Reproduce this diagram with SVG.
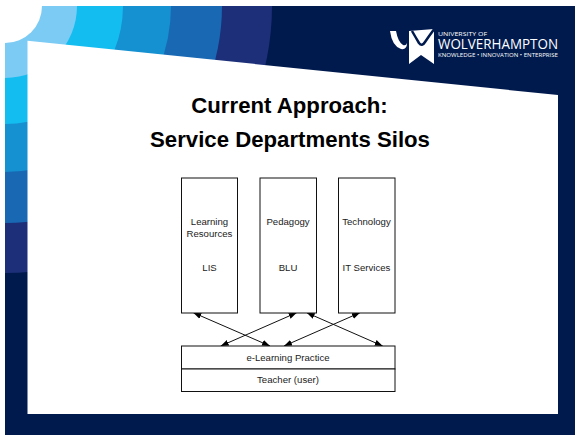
<svg xmlns="http://www.w3.org/2000/svg" width="575" height="435" viewBox="0 0 575 435">
<style>
.b{fill:#fff;stroke:#111;stroke-width:1}
.t{font:9.6px "Liberation Sans",Arial,sans-serif;text-anchor:middle;fill:#222}
.h{font:bold 22.2px "Liberation Sans",Arial,sans-serif;text-anchor:middle;fill:#000}
.c{stroke:#111;stroke-width:1;fill:none;marker-start:url(#a);marker-end:url(#a)}
.l{font-family:"Open Sans","Liberation Sans",Arial,sans-serif;fill:#fff}
</style>
<defs>
<clipPath id="s"><rect x="5" y="6" width="570" height="429"/></clipPath>
<marker id="a" markerUnits="userSpaceOnUse" markerWidth="9" markerHeight="7" refX="8" refY="3.500" orient="auto-start-reverse"><path d="M0 .5L8 3.500L0 6.500Z" fill="#000"/></marker>
</defs>
<rect width="575" height="435" fill="#fff"/>
<rect x="5" y="6" width="570" height="429" fill="#001a4e"/>
<g clip-path="url(#s)">
<circle cx="5" cy="6" r="267" fill="#1c2f78"/>
<circle cx="5" cy="6" r="217" fill="#1868b4"/>
<circle cx="5" cy="6" r="166" fill="#1590d0"/>
<circle cx="5" cy="6" r="118" fill="#14bdf0"/>
<circle cx="5" cy="6" r="72" fill="#7ccbf5"/>
<circle cx="5" cy="6" r="37" fill="#fff"/>
</g>
<path d="M27.500 40.700L558 95V414H27.500Z" fill="#fff"/>
<g id="logo">
<path d="M409 31L434 29V64L421 55L409 64Z" fill="#fff"/>
<path d="M412 31Q416 38 419 43Q422 47 425 42Q429 36 435 28" fill="none" stroke="#001a4e" stroke-width="2.500"/>
<path d="M390 31L396 31Q398 42 403 45Q406 46 407 43Q407 50 401 49Q392 46 390 31Z" fill="#fff"/>
<text class="l" x="438" y="36" font-size="5.800" textLength="49" lengthAdjust="spacingAndGlyphs">UNIVERSITY OF</text>
<text class="l" x="438" y="49" font-size="14.500" textLength="120" lengthAdjust="spacingAndGlyphs">WOLVERHAMPTON</text>
<text class="l" x="438" y="56.500" font-size="4.800" textLength="120" lengthAdjust="spacingAndGlyphs">KNOWLEDGE • INNOVATION • ENTERPRISE</text>
</g>
<g id="title">
<text class="h" x="289.500" y="113">Current Approach:</text>
<text class="h" x="290" y="147">Service Departments Silos</text>
</g>
<g id="connectors">
<line class="c" x1="193.300" y1="312.700" x2="270" y2="346"/>
<line class="c" x1="296.700" y1="312.700" x2="220.700" y2="346"/>
<line class="c" x1="360" y1="312.700" x2="284" y2="346"/>
<line class="c" x1="306.700" y1="312.700" x2="382.700" y2="346"/>
</g>
<g id="lis">
<rect class="b" x="181.500" y="178" width="56" height="135"/>
<text class="t" x="209.500" y="225">Learning</text>
<text class="t" x="209.500" y="237">Resources</text>
<text class="t" x="209.500" y="271">LIS</text>
</g>
<g id="blu">
<rect class="b" x="260" y="178" width="56.500" height="135"/>
<text class="t" x="288" y="225">Pedagogy</text>
<text class="t" x="288" y="271">BLU</text>
</g>
<g id="it">
<rect class="b" x="338.500" y="178" width="56.500" height="135"/>
<text class="t" x="366.500" y="225">Technology</text>
<text class="t" x="366.500" y="271">IT Services</text>
</g>
<g id="practice">
<rect class="b" x="181.500" y="346" width="213.500" height="23"/>
<text class="t" x="288" y="361">e-Learning Practice</text>
</g>
<g id="teacher">
<rect class="b" x="181.500" y="369" width="213.500" height="22.500"/>
<text class="t" x="288" y="383">Teacher (user)</text>
</g>
</svg>
